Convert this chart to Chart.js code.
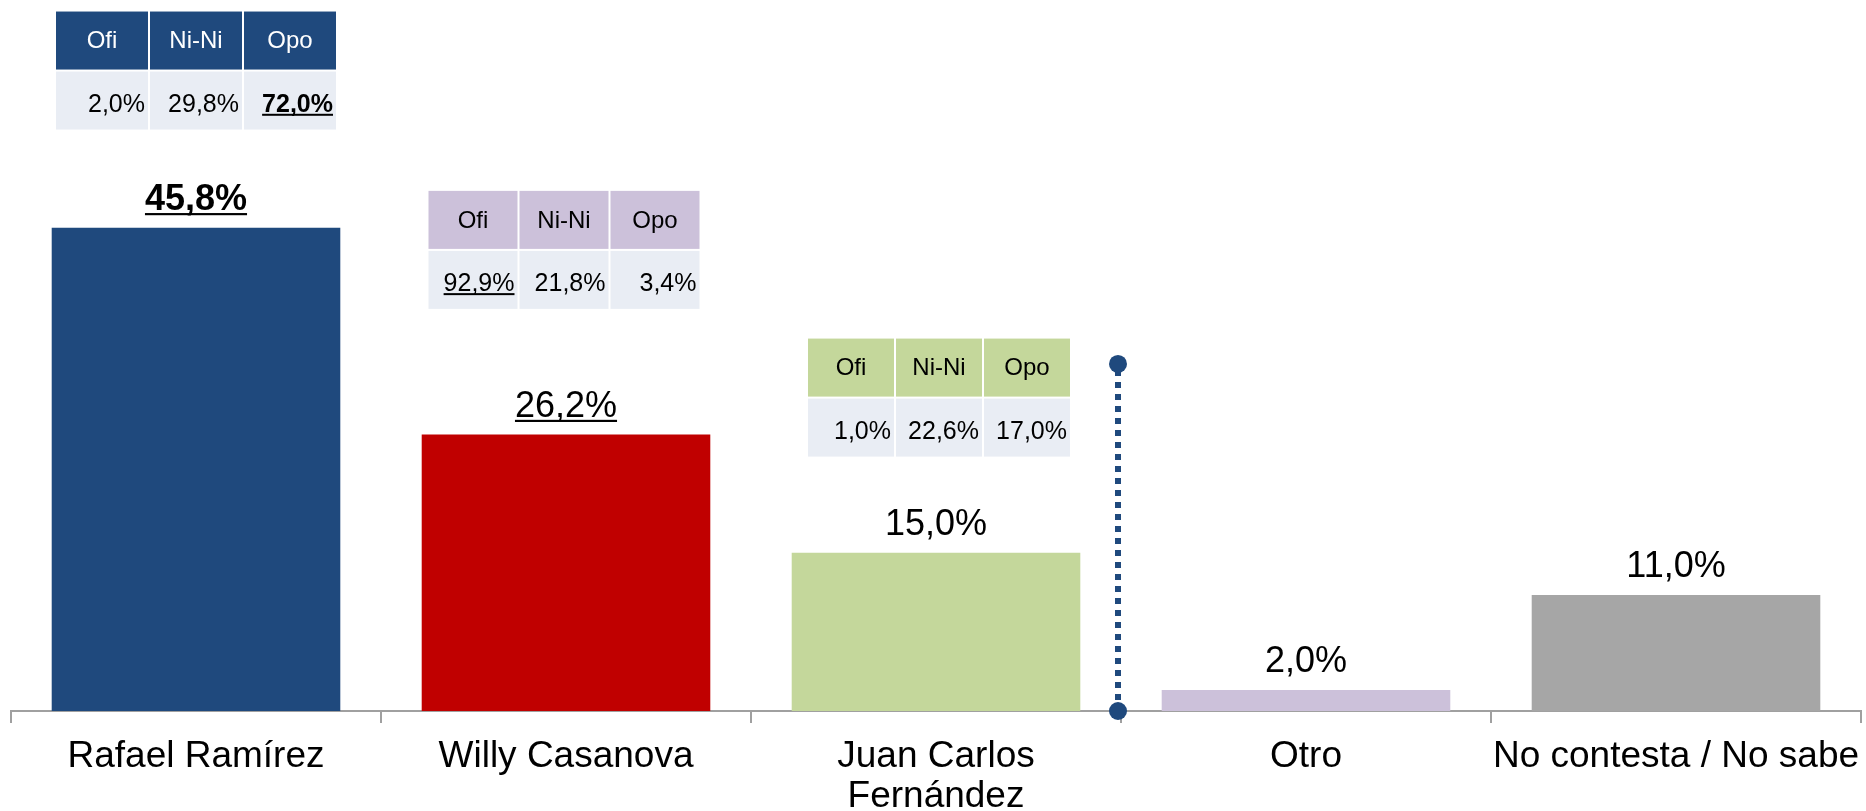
<!DOCTYPE html>
<html>
<head>
<meta charset="utf-8">
<script src="https://cdn.jsdelivr.net/npm/chart.js@4/dist/chart.umd.min.js"></script>
<style>
  html, body { margin: 0; padding: 0; background: #fff; }
  #wrap { width: 1866px; height: 811px; }
</style>
</head>
<body>
<div id="wrap"><canvas id="myBarChart"></canvas></div>
<script>
var CANDIDATES = ['Rafael Ramírez', 'Willy Casanova', ['Juan Carlos', 'Fernández'], 'Otro', 'No contesta / No sabe'];
var SHARES = [45.8, 26.2, 15.0, 2.0, 11.0];
var BAR_COLORS = ['#1F497D', '#C00000', '#C4D79B', '#CCC1DA', '#A6A6A6'];

var GROUPS = ['Ofi', 'Ni-Ni', 'Opo'];
var RAMIREZ_BY_GROUP = [2.0, 29.8, 72.0];
var CASANOVA_BY_GROUP = [92.9, 21.8, 3.4];
var FERNANDEZ_BY_GROUP = [1.0, 22.6, 17.0];

var FONT = '"Liberation Sans", Arial, sans-serif';

function pct(v) {
    return v.toFixed(1).replace('.', ',') + '%';
}

// which breakdown table sits over which bar, and where its top edge is (in % units)
var tables = [
    { bar: 0, values: RAMIREZ_BY_GROUP, top: 66.3, colW: 92, shift: 0, head: '#1F497D', headText: '#fff', bold: 2, underline: 2 },
    { bar: 1, values: CASANOVA_BY_GROUP, top: 49.3, colW: 89, shift: -2, head: '#CCC1DA', headText: '#000', bold: -1, underline: 0 },
    { bar: 2, values: FERNANDEZ_BY_GROUP, top: 35.3, colW: 86, shift: 3, head: '#C4D79B', headText: '#000', bold: -1, underline: -1 }
];

function drawText(ctx, txt, x, y, align, bold, underline, size) {
    ctx.font = (bold ? 'bold ' : '') + size + 'px ' + FONT;
    ctx.textAlign = align;
    ctx.textBaseline = 'alphabetic';
    ctx.fillStyle = '#000';
    ctx.fillText(txt, x, y);
    if (underline) {
        var w = ctx.measureText(txt).width,
            x0 = align === 'center' ? x - w / 2 : (align === 'right' ? x - w : x);
        ctx.fillRect(x0, y + size * 0.09, w, Math.max(2, size * 0.06));
    }
}

var overlays = {
    id: 'overlays',
    afterDatasetsDraw: function (chart) {
        var ctx = chart.ctx,
            xs = chart.scales.x,
            ys = chart.scales.y,
            meta = chart.getDatasetMeta(0);

        ctx.save();

        // value labels above bars
        meta.data.forEach(function (bar, i) {
            drawText(ctx, pct(SHARES[i]), bar.x, bar.y - 18, 'center', i === 0, i < 2, 36);
        });

        // breakdown tables
        tables.forEach(function (t) {
            var cx = xs.getPixelForValue(t.bar) + t.shift,
                colW = t.colW, gap = 2, rowH = 58,
                left = cx - (colW * 3 + gap * 2) / 2,
                top = ys.getPixelForValue(t.top),
                i, x;

            for (i = 0; i < 3; i++) {
                x = left + i * (colW + gap);
                ctx.fillStyle = t.head;
                ctx.fillRect(x, top, colW, rowH);
                ctx.fillStyle = '#E9EDF4';
                ctx.fillRect(x, top + rowH + gap, colW, rowH);

                ctx.font = '24px ' + FONT;
                ctx.textAlign = 'center';
                ctx.textBaseline = 'middle';
                ctx.fillStyle = t.headText;
                ctx.fillText(GROUPS[i], x + colW / 2, top + rowH / 2 + 1);

                drawText(ctx, pct(t.values[i]), x + colW - 3, top + rowH + gap + rowH / 2 + 11,
                    'right', t.bold === i, t.underline === i, 25);
            }
        });

        // dotted divider between candidates and the rest
        var dx = (xs.getPixelForValue(2) + xs.getPixelForValue(3)) / 2 - 3,
            dTop = ys.getPixelForValue(32.9),
            dBottom = ys.getPixelForValue(0);
        ctx.strokeStyle = '#1F497D';
        ctx.lineWidth = 6;
        ctx.setLineDash([6, 6]);
        ctx.beginPath();
        ctx.moveTo(dx, dTop + 6);
        ctx.lineTo(dx, dBottom);
        ctx.stroke();
        ctx.setLineDash([]);
        ctx.fillStyle = '#1F497D';
        [dTop, dBottom].forEach(function (y) {
            ctx.beginPath();
            ctx.arc(dx, y, 9, 0, Math.PI * 2);
            ctx.fill();
        });

        ctx.restore();
    }
};

var createBar = function () {
    return new Chart(document.getElementById('myBarChart').getContext('2d'), {
        type: 'bar',
        data: {
            labels: CANDIDATES,
            datasets: [{
                data: SHARES,
                backgroundColor: BAR_COLORS,
                barPercentage: 0.78,
                categoryPercentage: 1
            }]
        },
        options: {
            responsive: true,
            maintainAspectRatio: false,
            animation: false,
            layout: { padding: { top: 78, left: 11, right: 5, bottom: 0 } },
            plugins: { legend: { display: false }, tooltip: { enabled: false } },
            scales: {
                x: {
                    grid: { offset: true, drawOnChartArea: false, color: '#A0A0A0', lineWidth: 2, tickLength: 12 },
                    border: { color: '#A0A0A0', width: 2 },
                    ticks: {
                        color: '#000',
                        padding: 13,
                        maxRotation: 0,
                        autoSkip: false,
                        font: { family: FONT, size: 37, lineHeight: 1.1 }
                    },
                    afterFit: function (scale) {
                        scale.height = 100;
                        scale.paddingLeft = 0;
                        scale.paddingRight = 0;
                    }
                },
                y: { display: false, min: 0, max: 60 }
            }
        },
        plugins: [overlays]
    });
};

createBar();
</script>
</body>
</html>
